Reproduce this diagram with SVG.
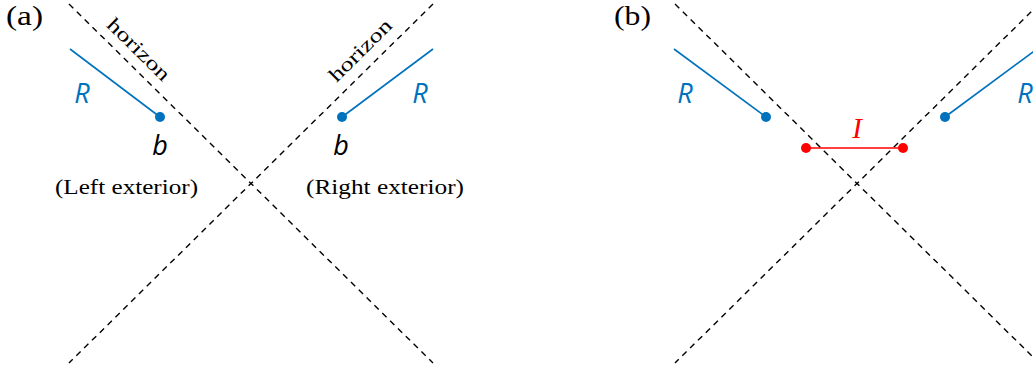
<svg xmlns="http://www.w3.org/2000/svg" width="1033" height="373" viewBox="0 0 1033 373">
<style>
.hz{stroke:#000;stroke-width:1.4;stroke-dasharray:6 5;fill:none}
.bl{stroke:#0072BD;stroke-width:1.6;fill:none}
.rd{stroke:#FF0000;stroke-width:1.6;fill:none}
.bd{fill:#0072BD}
.rdd{fill:#FF0000}
.serif{font-family:"Liberation Serif","DejaVu Serif",serif;fill:#000}
.math{font-family:"Open Sans","Noto Sans",sans-serif;font-style:italic;font-size:27px}
</style>
<rect width="1033" height="373" fill="#fff"/>
<g id="connectors">
<line class="hz" x1="69" y1="4" x2="433" y2="363"/>
<line class="hz" x1="433" y1="4" x2="69" y2="363"/>
<line class="hz" x1="675" y1="4" x2="1039" y2="363"/>
<line class="hz" x1="1039" y1="4" x2="675" y2="363"/>
<line class="bl" x1="70" y1="49" x2="160" y2="117"/>
<line class="bl" x1="433" y1="49" x2="342" y2="117"/>
<line class="bl" x1="674" y1="49" x2="766" y2="117"/>
<line class="bl" x1="1037" y1="49" x2="945" y2="117"/>
<line class="rd" x1="806" y1="148" x2="903" y2="148"/>
</g>
<g id="panel-a">
<text class="serif" x="6" y="25" font-size="28" textLength="37" lengthAdjust="spacingAndGlyphs">(a)</text>
<text class="serif" font-size="20" transform="translate(139,49) rotate(44.6)" text-anchor="middle" dominant-baseline="central" textLength="80" lengthAdjust="spacingAndGlyphs">horizon</text>
<text class="serif" font-size="20" transform="translate(360,50) rotate(-44.6)" text-anchor="middle" dominant-baseline="central" textLength="80" lengthAdjust="spacingAndGlyphs">horizon</text>
</g>
<g id="left-R">
<circle class="bd" cx="160" cy="117" r="5"/>
<text class="math" x="82" y="103" fill="#0072BD" text-anchor="middle">R</text>
<text class="math" x="160" y="155" fill="#000" text-anchor="middle">b</text>
<text class="serif" x="126.5" y="194" font-size="21" text-anchor="middle" textLength="143" lengthAdjust="spacingAndGlyphs">(Left exterior)</text>
</g>
<g id="right-R">
<circle class="bd" cx="342" cy="117" r="5"/>
<text class="math" x="420" y="103" fill="#0072BD" text-anchor="middle">R</text>
<text class="math" x="341" y="155" fill="#000" text-anchor="middle">b</text>
<text class="serif" x="385" y="194" font-size="21" text-anchor="middle" textLength="158" lengthAdjust="spacingAndGlyphs">(Right exterior)</text>
</g>
<g id="panel-b">
<text class="serif" x="614" y="25" font-size="28" textLength="37" lengthAdjust="spacingAndGlyphs">(b)</text>
</g>
<g id="b-left-R">
<circle class="bd" cx="766" cy="117" r="5"/>
<text class="math" x="685" y="103" fill="#0072BD" text-anchor="middle">R</text>
</g>
<g id="b-right-R">
<circle class="bd" cx="945" cy="117" r="5"/>
<text class="math" x="1025" y="103" fill="#0072BD" text-anchor="middle">R</text>
</g>
<g id="island-I">
<circle class="rdd" cx="806" cy="148" r="5"/>
<circle class="rdd" cx="903" cy="148" r="5"/>
<text x="857" y="138" font-family="Liberation Serif, serif" font-style="italic" font-size="29" fill="#FF0000" text-anchor="middle">I</text>
</g>
</svg>
